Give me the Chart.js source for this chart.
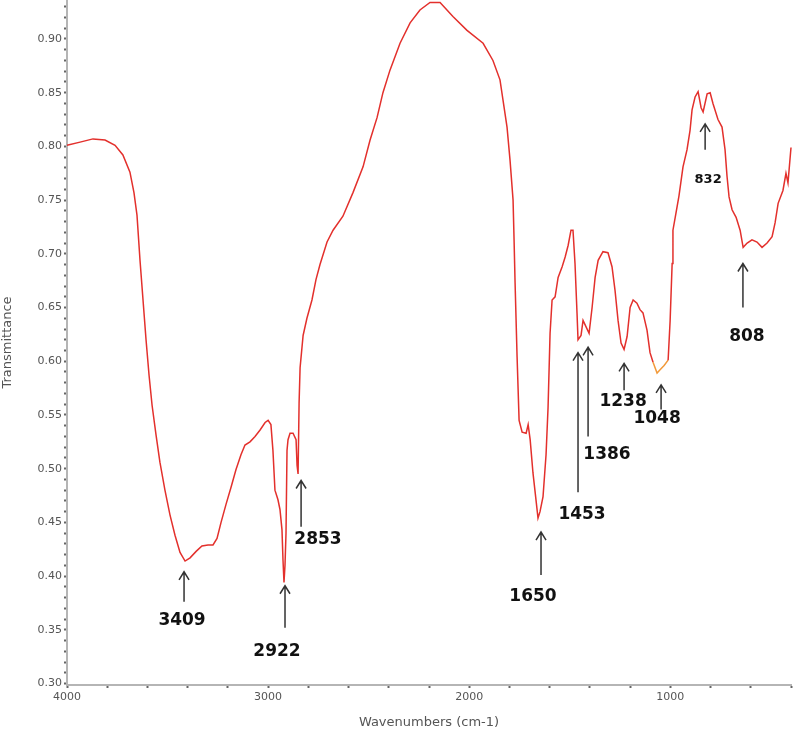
<!DOCTYPE html>
<html>
<head>
<meta charset="utf-8">
<script src="https://cdn.jsdelivr.net/npm/chart.js@4/dist/chart.umd.min.js"></script>
<style>
  html, body { margin:0; padding:0; background:#fff; }
  #wrap { width:796px; height:736px; }
</style>
</head>
<body>
<div id="wrap"><canvas id="chart0" width="796" height="736"></canvas></div>
<script>
// Spectrum (wavenumber cm-1 -> transmittance)
const wavenumbers = [
  4000,3935,3871,3811,3761,3722,3687,3667,3652,3637,3622,3607,3592,3577,3557,3538,3513,3488,3463,3438,
  3413,3388,3358,3329,3299,3274,3254,3234,3209,3184,3160,3135,3115,3090,3065,3040,3015,3000,2986,2976,
  2966,2956,2951,2941,2931,2926,2921,2916,2911,2906,2901,2891,2876,2861,2856,2851,2846,2841,2826,2807,
  2782,2762,2742,2707,2677,2628,2578,2528,2493,2458,2429,2394,2344,2294,2245,2195,2145,2081,2011,1931,
  1882,1847,1832,1812,1797,1782,1777,1772,1762,1752,1737,1717,1707,1697,1683,1668,1658,1648,1633,1618,
  1608,1598,1588,1573,1558,1538,1523,1508,1494,1484,1474,1464,1459,1444,1434,1419,1404,1389,1374,1359,
  1335,1310,1290,1275,1260,1245,1230,1215,1200,1185,1166,1151,1136,1116,1101,1086,1066,1051,1031,1011,
  1001,991,987,972,957,937,917,902,892,877,862,847,837,817,802,788,763,743,728,718,
  708,693,673,653,638,618,594,569,544,519,494,479,464,440,425,415,400
];
const transmittance = [
  0.801,0.804,0.807,0.806,0.801,0.792,0.776,0.757,0.736,0.694,0.657,0.620,0.587,0.559,0.531,0.506,0.480,0.457,0.438,0.422,
  0.414,0.417,0.423,0.428,0.429,0.429,0.435,0.450,0.467,0.483,0.499,0.513,0.522,0.525,0.530,0.536,0.543,0.545,0.541,0.517,
  0.480,0.474,0.471,0.462,0.443,0.415,0.394,0.410,0.440,0.517,0.527,0.533,0.533,0.527,0.503,0.495,0.561,0.594,0.624,0.640,
  0.657,0.676,0.690,0.711,0.722,0.735,0.757,0.781,0.806,0.827,0.850,0.871,0.896,0.915,0.927,0.934,0.934,0.921,0.908,0.896,
  0.880,0.862,0.843,0.818,0.787,0.750,0.713,0.673,0.604,0.545,0.534,0.533,0.541,0.527,0.496,0.471,0.454,0.460,0.474,0.513,
  0.557,0.626,0.657,0.660,0.678,0.688,0.697,0.708,0.722,0.722,0.691,0.645,0.620,0.624,0.638,0.632,0.626,0.650,0.678,0.694,
  0.702,0.701,0.688,0.666,0.638,0.617,0.611,0.623,0.650,0.657,0.654,0.648,0.645,0.629,0.608,0.599,0.589,0.592,0.596,0.601,
  0.638,0.691,0.722,0.738,0.754,0.781,0.797,0.815,0.834,0.846,0.851,0.836,0.832,0.849,0.850,0.840,0.825,0.818,0.797,0.772,
  0.753,0.741,0.734,0.722,0.706,0.710,0.713,0.711,0.706,0.710,0.716,0.729,0.747,0.759,0.775,0.766,0.799
];

// Peak annotations: arrow at arrowX, from arrowTail up to arrowTip, text at (labelX, labelY)
const peakLabels = ['3409','2922','2853','1650','1453','1386','1238','1048','832','808'];
const arrowX     = [3418, 2916, 2836, 1643, 1459, 1409, 1230, 1046, 827, 639];
const arrowTip   = [0.404,0.391,0.489,0.441,0.608,0.613,0.598,0.578,0.821,0.691];
const arrowTail  = [0.376,0.352,0.446,0.401,0.478,0.530,0.573,0.555,0.797,0.650];
const labelX     = [3428, 2956, 2752, 1683, 1439, 1315, 1235, 1066, 812, 619];
const labelY     = [0.359,0.330,0.434,0.381,0.457,0.513,0.562,0.547,0.769,0.623];
const smallLabels = ['832'];

// Axis ticks
const xMajor = 1000, xMinor = 200;
const yMajor = 0.05, yMinor = 0.01;

const grey = '#555';

const arrowPlugin = {
  id:'peakArrows',
  afterDatasetsDraw(chart){
    const {ctx, scales:{x, y}} = chart;
    ctx.save();
    ctx.strokeStyle = '#333';
    ctx.lineWidth = 1.5;
    peakLabels.forEach((txt,i)=>{
      const px = x.getPixelForValue(arrowX[i]);
      const tip = y.getPixelForValue(arrowTip[i]);
      const tail = y.getPixelForValue(arrowTail[i]);
      ctx.beginPath();
      ctx.moveTo(px, tail);
      ctx.lineTo(px, tip);
      ctx.moveTo(px-5, tip+8);
      ctx.lineTo(px, tip);
      ctx.lineTo(px+5, tip+8);
      ctx.stroke();

      const small = smallLabels.includes(txt);
      ctx.fillStyle = '#111';
      ctx.font = (small ? 'bold 13px' : 'bold 17px') + ' "DejaVu Sans", sans-serif';
      ctx.textAlign = 'center';
      ctx.textBaseline = 'middle';
      ctx.fillText(txt, x.getPixelForValue(labelX[i]), y.getPixelForValue(labelY[i]));
    });
    ctx.restore();
  }
};

const isMult = (v, step) => Math.abs(v/step - Math.round(v/step)) < 1e-6;

const ctx = document.getElementById('chart0').getContext('2d');
new Chart(ctx, {
  type:'line',
  data:{
    datasets:[{
      data: wavenumbers.map((w,i)=>({x:w, y:transmittance[i]})),
      borderColor:'#e3302c',
      borderWidth:1.5,
      pointRadius:0,
      tension:0,
      fill:false,
      clip:false,
      segment:{
        borderColor: c => (c.p0.parsed.x <= 1086 && c.p1.parsed.x >= 1011) ? '#f29a3a' : undefined
      }
    }]
  },
  options:{
    responsive:false,
    animation:false,
    layout:{ padding:{ left:0, right:5, top:0, bottom:0 } },
    plugins:{ legend:{ display:false }, tooltip:{ enabled:false } },
    scales:{
      x:{
        type:'linear',
        reverse:true,
        min:400, max:4000,
        afterFit: s => { s.height = 51; s.paddingLeft = 0; s.paddingRight = 0; },
        border:{ color:'#b5b5b5', width:2 },
        grid:{ drawOnChartArea:false, drawTicks:true, tickLength:3, tickColor:'#666', tickWidth:2 },
        ticks:{
          stepSize:xMinor,
          autoSkip:false,
          maxRotation:0,
          includeBounds:false,
          padding:3,
          color:grey,
          font:{ family:'"DejaVu Sans", sans-serif', size:11 },
          callback: v => isMult(v, xMajor) ? String(v) : ''
        },
        title:{ display:true, text:'Wavenumbers (cm-1)', color:grey,
                font:{ family:'"DejaVu Sans", sans-serif', size:13 }, padding:{ top:0, bottom:6 } }
      },
      y:{
        min:0.2986, max:0.9363,
        afterFit: s => { s.width = 67; s.paddingTop = 0; s.paddingBottom = 0; },
        border:{ color:'#b5b5b5', width:2 },
        grid:{ drawOnChartArea:false, drawTicks:true, tickLength:3, tickColor:'#666', tickWidth:2 },
        ticks:{
          stepSize:yMinor,
          autoSkip:false,
          includeBounds:false,
          padding:2,
          color:grey,
          font:{ family:'"DejaVu Sans", sans-serif', size:11 },
          callback: v => isMult(v, yMajor) ? v.toFixed(2) : ''
        },
        title:{ display:true, text:'Transmittance', color:grey,
                font:{ family:'"DejaVu Sans", sans-serif', size:13 }, padding:{ top:0, bottom:0 } }
      }
    }
  },
  plugins:[arrowPlugin]
});
</script>
</body>
</html>
